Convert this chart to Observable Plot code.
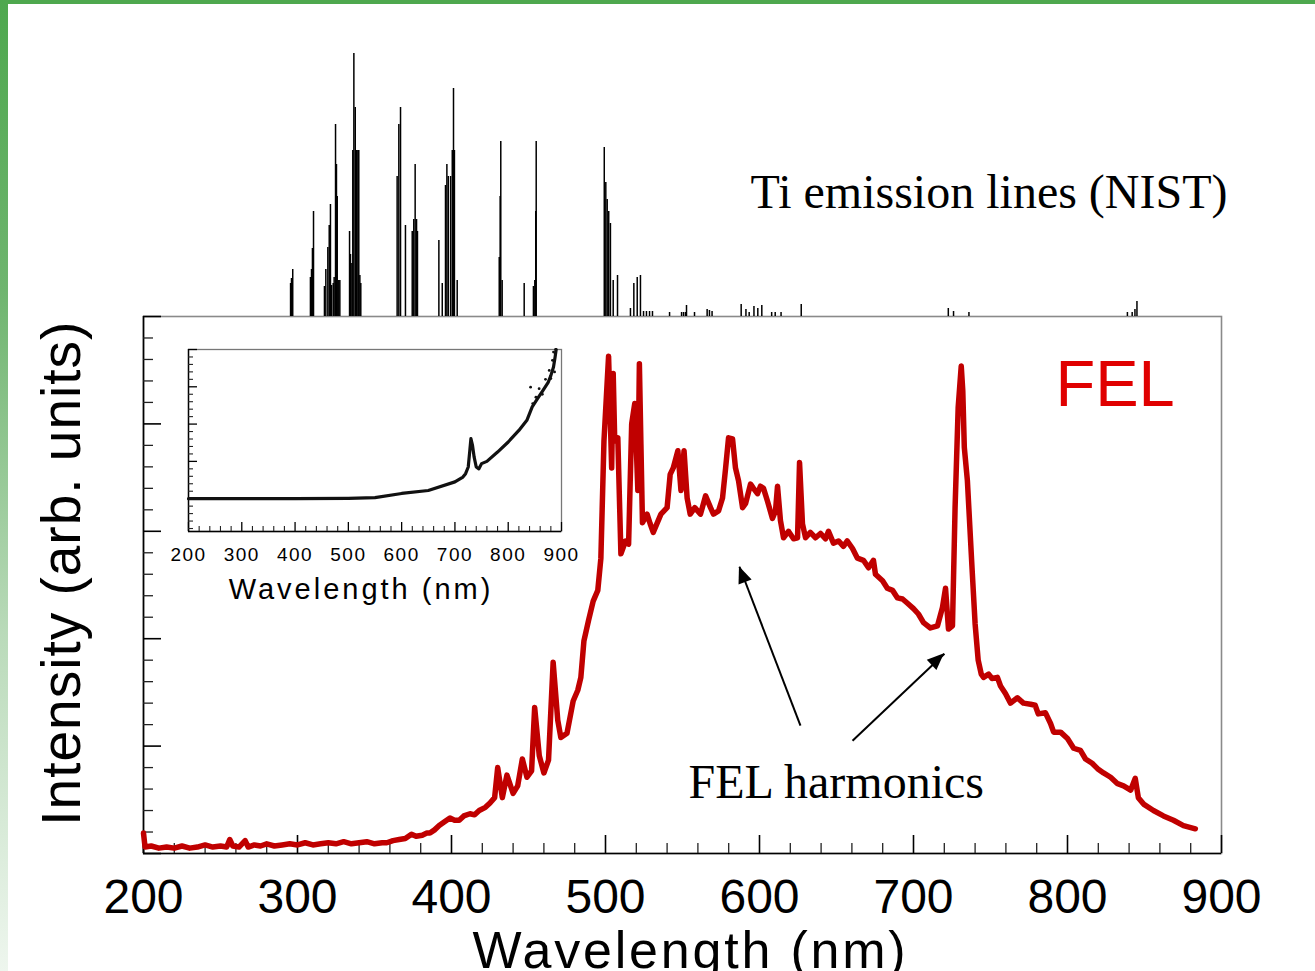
<!DOCTYPE html>
<html><head><meta charset="utf-8">
<script src="https://cdn.jsdelivr.net/npm/d3@7"></script>
<script src="https://cdn.jsdelivr.net/npm/@observablehq/plot@0.6"></script>
<style>
body{margin:0;background:#fff;}
#wrap{position:relative;width:1315px;height:971px;overflow:hidden;background:#fff;}
#wrap svg{position:absolute;left:0;top:0;}
.topbar{position:absolute;left:0;top:0;width:1315px;height:4px;background:#4ea84e;z-index:5;}
.leftbar{position:absolute;left:0;top:0;width:8px;height:971px;background:linear-gradient(#4ea84e,#6fb56f 30%,#b9dab9 65%,#eef6ee);z-index:5;}
</style></head><body><div id="wrap"><div class="topbar"></div><div class="leftbar"></div></div>
<script>
const SANS = "Liberation Sans, Arial, Helvetica, sans-serif";
const SERIF = "Liberation Serif, Times New Roman, serif";

// ---- FEL spectrum (main plot), intensity in arbitrary units (0-500)
const felNm = [200,201,205,210,215,220,225,230,235,240,245,250,254,256,258,262,266,268,272,276,280,285,290,295,300,305,310,315,320,325,330,335,340,345,350,355,358,362,366,370,374,377,381,384,386,389,392,395,399,402,405,408,412,415,418,422,425,428,430,433,436,440,443,446,449,452,454,457,460,463,466,469,471,475,479,482,484,486,489,492,495,497,499,502,504,505,506,508,510,513,515,517,519,521,522,523,524,527,529,531,536,540,542,544,547,549,551,553,
  555,558,561.7,565,568.2,570.1,573.4,576,578,579.9,582.5,584.4,586.4,589,591,594.2,596.1,598.7,600.6,602.6,605.2,608.4,610.4,611.7,613.6,615.6,618.8,622.1,624.7,626,627.9,629.9,633,636.4,639.6,642.9,644.8,648,651.3,654.5,657,660.4,663.6,667.5,670.8,674,675.3,679.9,683,686.4,689.6,692.9,696.1,700,703.2,706.5,711,715.6,718.8,720.8,722.7,725.3,727,729,731,732,733,735,738,740,742,
  744,745.5,748.8,751,754.5,756.5,759.7,763,767.5,771.4,776,779,781,785.7,789,791,795.5,800,804,808.4,811.7,816,819.5,823.4,828,832.5,836.4,841,844,846,849.4,855.8,862.3,868.8,875.3,883];
const felIntensity = [19,6,7,5,6,5,7,5,6,8,6,7,6,13,7,6,12,6,8,7,9,7,8,9,8,10,8,9,10,9,11,9,10,11,9,10,10,12,13,14,18,16,17,19,19,22,26,29,33,31,31,35,37,36,40,43,47,52,80,52,73,56,63,88,71,77,136,91,75,87,178,124,108,112,142,152,164,198,217,235,245,275,384,463,359,447,384,387,279,291,288,400,419,338,456,381,308,316,307,299,316,322,353,359,375,338,375,331,
  316,322,316,333,322,316,319,331,359,387,386,359,347,322,326,344,340,335,342,340,328,312,319,342,310,294,300,293,294,364,307,294,299,294,298,293,300,289,291,286,291,284,275,273,266,273,260,254,247,245,238,237,233,228,223,215,210,212,229,247,209,212,322,415,454,431,378,347,266,214,180,
  167,164,167,163,164,156,149,140,145,140,139,138,130,131,121,113,113,107,98,96,88,84,79,75,71,65,63,59,70,52,46,40,35,31,26,23];

// ---- Ti emission lines (NIST), relative intensity
const tiNm = [295.5,296.1,296.9,308.4,309.1,309.7,310.4,317.5,318.4,319.7,320.6,321.4,322.1,323.2,323.8,324.7,325.3,325.8,326.8,327.5,333.8,334.4,335.3,335.9,336.6,337.5,338.3,339.2,339.8,340.5,341.1,364.7,365.8,366.9,370.1,374.5,375.5,376.4,377.3,377.9,391.8,394.0,396.1,397.0,397.9,399.4,400.5,401.3,401.9,403.7,431.0,431.6,432.0,432.9,447.2,453.2,454.1,454.7,455.0,499.2,500.2,501.1,502.1,503.2,505.0,507.8,516.2,518.4,520.6,522.7,524.7,526.6,528.6,530.5,541.6,549.4,550.7,552.0,552.6,557.8,566.0,567.5,569.2,588.1,591.2,593.3,596.4,598.9,601.5,607.9,610.2,614.0,627.1,722.6,726.0,736.0,838.9,842.0,843.8,845.1];
const tiRel = [33,38,47,39,47,68,105,30,47,69,91,112,31,33,39,192,152,120,36,36,85,62,53,166,263,209,166,166,166,41,33,140,192,209,91,85,97,152,97,85,76,33,131,152,140,140,166,228,166,36,59,120,175,36,33,30,36,105,175,169,134,117,105,93,36,41,8,33,39,41,5,5,5,5,4,4,4,4,11,4,7,6,5,12,7,4,10,8,11,4,4,4,12,8,5,4,4,4,7,15];

// ---- Inset: ratio spectrum
const insetNm = [200,300,400,500,550,600,650,700,715,720,725,728,730,733,736,740,745,750,760,780,800,820,835,845,855,865,875,880,885,888,890];
const insetRatio = [1.0,1.0,1.0,1.01,1.03,1.14,1.22,1.45,1.58,1.67,1.85,2.3,2.61,2.43,2.12,1.85,1.8,1.94,2.0,2.25,2.52,2.83,3.1,3.46,3.68,3.9,4.12,4.3,4.53,4.8,5.0];
const insetScatterNm = [842,846,852,858,864,870,877,880,883,885,887,889];
const insetScatterRatio = [3.99,3.55,3.72,3.95,3.8,4.2,4.44,4.22,4.71,4.93,4.4,5.0];

// ---- ticks & labels
const xMajor = [200,300,400,500,600,700,800,900];
const xLabels = ["200","300","400","500","600","700","800","900"];
const xMinor = d3.range(200, 901, 20).filter(v => v % 100 !== 0);
const yMajor = [0,100,200,300,400,500];
const yMinor = d3.range(0, 501, 20).filter(v => v % 100 !== 0);
const insetYMajor = [1,2,3,4,5];
const insetYMinor = d3.range(2, 50, 2).map(v => v / 10).filter(v => Math.abs(v - Math.round(v)) > 1e-6);

const xTitle = "Wavelength (nm)";
const yTitle = [{label: "Intensity (arb. units)", nm: 147.4, v: 261}];
const annotations = [
  {label: "FEL", nm: 792.2, v: 416.7},
  {label: "FEL harmonics", nm: 553.9, v: 52.1}
];
const tiTitle = [{label: "Ti emission lines (NIST)", nm: 594.2, rel: 109}];
const arrows = [
  {nm1: 626.6, v1: 119, nm2: 587.0, v2: 267},
  {nm1: 660.4, v1: 105, nm2: 720.1, v2: 186}
];

const fel = felNm.map((nm, i) => ({nm, v: felIntensity[i]}));
const tiLines = tiNm.map((nm, i) => ({nm, rel: tiRel[i]}));
const inset = insetNm.map((nm, i) => ({nm, r: insetRatio[i]}));
const insetScatter = insetScatterNm.map((nm, i) => ({nm, r: insetScatterRatio[i]}));

const W = 1315, H = 971;
const mL = 143, mR = 94, mT = 316, mB = 118;
const innerW = W - mL - mR, innerH = H - mT - mB;
const transparent = {background: "transparent", overflow: "visible"};

const main = Plot.plot({
  width: W, height: H, marginLeft: mL, marginRight: mR, marginTop: mT, marginBottom: mB,
  style: transparent,
  x: {domain: [200, 900], axis: null},
  y: {domain: [0, 500], axis: null},
  marks: [
    Plot.frame({stroke: "#8a8a8a", strokeWidth: 1.6}),
    Plot.ruleX([200], {stroke: "#000", strokeWidth: 1.6}),
    Plot.ruleY([0], {stroke: "#000", strokeWidth: 1.6}),
    Plot.tickX(xMinor, {x: d => d, insetTop: innerH - 10, stroke: "#222", strokeWidth: 1.3}),
    Plot.tickX(xMajor, {x: d => d, insetTop: innerH - 18, stroke: "#000", strokeWidth: 1.6}),
    Plot.tickY(yMinor, {y: d => d, insetRight: innerW - 10, stroke: "#222", strokeWidth: 1.3}),
    Plot.tickY(yMajor, {y: d => d, insetRight: innerW - 18, stroke: "#000", strokeWidth: 1.6}),
    Plot.line(fel, {x: "nm", y: "v", stroke: "#c00000", strokeWidth: 5.5, strokeLinejoin: "round"}),
    Plot.text(xMajor, {x: d => d, text: (d, i) => xLabels[i], frameAnchor: "bottom", dy: 59, lineAnchor: "bottom", fontSize: 48, fontFamily: SANS, fill: "#000"}),
    Plot.text([xTitle], {text: d => d, frameAnchor: "bottom", dx: 8, dy: 114, lineAnchor: "bottom", fontSize: 52, fontFamily: SANS, fill: "#000"}),
    Plot.text(yTitle, {x: "nm", y: "v", text: "label", rotate: -90, fontSize: 55, fontFamily: SANS, fill: "#000"}),
    Plot.text([annotations[0]], {x: "nm", y: "v", text: "label", textAnchor: "start", lineAnchor: "bottom", fontSize: 65, fontFamily: SANS, fill: "#e00000"}),
    Plot.text([annotations[1]], {x: "nm", y: "v", text: "label", textAnchor: "start", lineAnchor: "bottom", fontSize: 48, fontFamily: SERIF, fill: "#000"}),
    Plot.link(arrows, {x1: "nm1", y1: "v1", x2: "nm2", y2: "v2", stroke: "#000", strokeWidth: 2})
  ]
});

// filled arrow heads using the plot's own scales
{
  const sx = main.scale("x"), sy = main.scale("y");
  const svg = d3.select(main);
  arrows.forEach(a => {
    const x1 = sx.apply(a.nm1), y1 = sy.apply(a.v1), x2 = sx.apply(a.nm2), y2 = sy.apply(a.v2);
    const ang = Math.atan2(y2 - y1, x2 - x1), L = 17, Hw = 7;
    const bx = x2 - L * Math.cos(ang), by = y2 - L * Math.sin(ang);
    const pts = [[x2, y2], [bx + Hw * Math.sin(ang), by - Hw * Math.cos(ang)], [bx - Hw * Math.sin(ang), by + Hw * Math.cos(ang)]];
    svg.append("polygon").attr("points", pts.map(p => p.join(",")).join(" ")).attr("fill", "#000");
  });
  svg.selectAll("text").filter(function() { return this.textContent === xTitle; }).attr("letter-spacing", 2.8);
  svg.selectAll("text").filter(function() { return this.textContent === yTitle[0].label; }).attr("letter-spacing", 1);
}

const ti = Plot.plot({
  width: W, height: mT, marginLeft: mL, marginRight: mR, marginTop: 53, marginBottom: 0,
  style: transparent,
  x: {domain: [200, 900], axis: null},
  y: {domain: [0, 263], axis: null},
  marks: [
    Plot.ruleX(tiLines, {x: "nm", y1: 0, y2: "rel", stroke: "#000", strokeWidth: 1.5}),
    Plot.text(tiTitle, {x: "nm", y: "rel", text: "label", textAnchor: "start", lineAnchor: "bottom", fontSize: 48, fontFamily: SERIF, fill: "#000"})
  ]
});

const iW = 600, iH = 620, iL = 188, iR = 39, iT = 349, iB = 89;
const iInnerW = iW - iL - iR, iInnerH = iH - iT - iB;
const insetPlot = Plot.plot({
  width: iW, height: iH, marginLeft: iL, marginRight: iR, marginTop: iT, marginBottom: iB,
  style: transparent,
  x: {domain: [200, 900], axis: null},
  y: {domain: [0.12, 5.0], axis: null},
  marks: [
    Plot.frame({fill: "#fff", stroke: "#777", strokeWidth: 1.3}),
    Plot.ruleX([200], {stroke: "#000", strokeWidth: 1.4}),
    Plot.ruleY([0.12], {stroke: "#000", strokeWidth: 1.4}),
    Plot.tickX(xMinor, {x: d => d, insetTop: iInnerH - 5, stroke: "#222", strokeWidth: 1.1}),
    Plot.tickX(xMajor, {x: d => d, insetTop: iInnerH - 9, stroke: "#000", strokeWidth: 1.3}),
    Plot.tickY(insetYMinor, {y: d => d, insetRight: iInnerW - 5, stroke: "#222", strokeWidth: 1.1}),
    Plot.tickY(insetYMajor, {y: d => d, insetRight: iInnerW - 9, stroke: "#000", strokeWidth: 1.3}),
    Plot.line(inset, {x: "nm", y: "r", stroke: "#111", strokeWidth: 3.2}),
    Plot.dot(insetScatter, {x: "nm", y: "r", r: 1.4, fill: "#111"}),
    Plot.text(xMajor, {x: d => d, text: (d, i) => xLabels[i], frameAnchor: "bottom", dy: 29, lineAnchor: "bottom", fontSize: 19, fontFamily: SANS, fill: "#000"}),
    Plot.text([xTitle], {text: d => d, frameAnchor: "bottom", dx: -14, dy: 67, lineAnchor: "bottom", fontSize: 29, fontFamily: SANS, fill: "#000"})
  ]
});
d3.select(insetPlot).selectAll("text").filter(function() { return this.textContent === xTitle; }).attr("letter-spacing", 3);
d3.select(insetPlot).selectAll("text").filter(function() { return /^\d+$/.test(this.textContent); }).attr("letter-spacing", 1.5);

const wrap = document.getElementById("wrap");
wrap.appendChild(main);
wrap.appendChild(ti);
wrap.appendChild(insetPlot);
</script></body></html>
